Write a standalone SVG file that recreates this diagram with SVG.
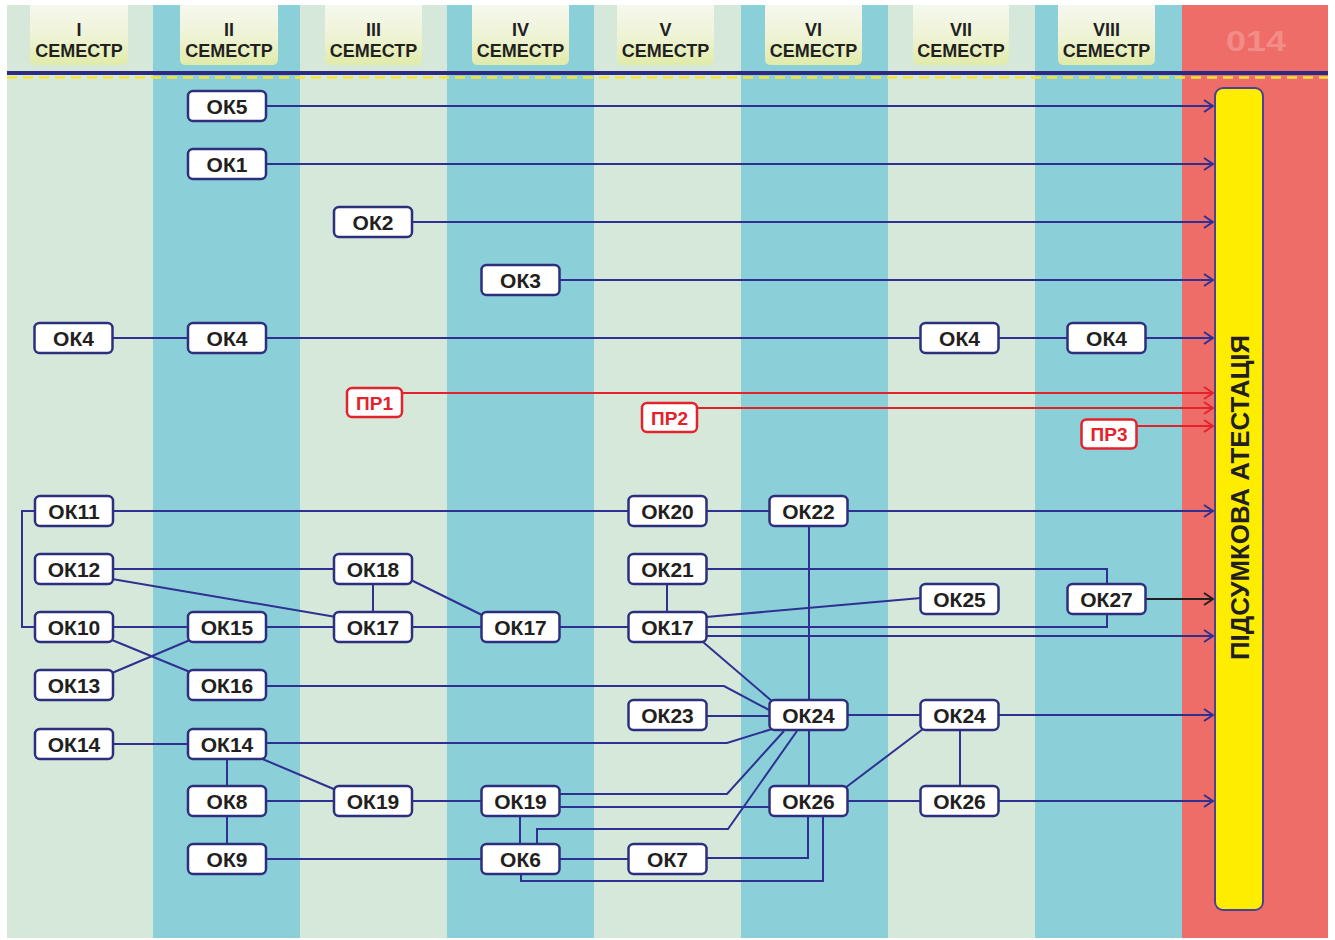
<svg xmlns="http://www.w3.org/2000/svg" width="1335" height="940" viewBox="0 0 1335 940">
<defs>
<style>
.colA{fill:#d5e8d9}
.colB{fill:#8bcfd9}
.tab{fill:url(#tabg)}
.htxt{font-family:"Liberation Sans",Arial,sans-serif;font-weight:bold;font-size:18px;fill:#231f20;text-anchor:middle}
.box{fill:#ffffff;stroke:#2d2f7e;stroke-width:2.5}
.lbl{font-family:"Liberation Sans",Arial,sans-serif;font-weight:bold;font-size:21px;fill:#231f20;text-anchor:middle}
.pbox{fill:#ffffff;stroke:#e3222b;stroke-width:2.5}
.plbl{font-family:"Liberation Sans",Arial,sans-serif;font-weight:bold;font-size:19px;fill:#e3222b;text-anchor:middle}
.ln{fill:none;stroke:#2e3192;stroke-width:2}
.lnr{fill:none;stroke:#e3222b;stroke-width:2}
.lnk{fill:none;stroke:#231f20;stroke-width:2}
.arr{marker-end:url(#ah)}
.arrr{marker-end:url(#ahr)}
.arrk{marker-end:url(#ahk)}
</style>
<linearGradient id="tabg" x1="0" y1="0" x2="0" y2="1">
<stop offset="0" stop-color="#f5f8ee"/>
<stop offset="0.55" stop-color="#eef3d4"/>
<stop offset="1" stop-color="#e0eba9"/>
</linearGradient>
<marker id="ah" viewBox="0 0 12 14" refX="11" refY="7" markerWidth="12" markerHeight="14" markerUnits="userSpaceOnUse" orient="auto">
<path d="M2,1 L11,7 L2,13" fill="none" stroke="#2e3192" stroke-width="2"/>
</marker>
<marker id="ahr" viewBox="0 0 12 14" refX="11" refY="7" markerWidth="12" markerHeight="14" markerUnits="userSpaceOnUse" orient="auto">
<path d="M2,1 L11,7 L2,13" fill="none" stroke="#e3222b" stroke-width="2"/>
</marker>
<marker id="ahk" viewBox="0 0 12 14" refX="11" refY="7" markerWidth="12" markerHeight="14" markerUnits="userSpaceOnUse" orient="auto">
<path d="M2,1 L11,7 L2,13" fill="none" stroke="#231f20" stroke-width="2"/>
</marker>
</defs>
<rect x="0" y="0" width="1335" height="940" fill="#ffffff"/>
<g id="columns">
<rect class="colA" x="7" y="5" width="146" height="933"/>
<rect class="colB" x="153" y="5" width="147" height="933"/>
<rect class="colA" x="300" y="5" width="147" height="933"/>
<rect class="colB" x="447" y="5" width="147" height="933"/>
<rect class="colA" x="594" y="5" width="147" height="933"/>
<rect class="colB" x="741" y="5" width="147" height="933"/>
<rect class="colA" x="888" y="5" width="147" height="933"/>
<rect class="colB" x="1035" y="5" width="147" height="933"/>
<rect x="1182" y="5" width="146" height="933" fill="#ee6d69"/>
</g>
<g id="header">
<path class="tab" d="M30,5 H128 V59 Q128,65 122,65 H36 Q30,65 30,59 Z"/>
<path class="tab" d="M180,5 H278 V59 Q278,65 272,65 H186 Q180,65 180,59 Z"/>
<path class="tab" d="M325,5 H422 V59 Q422,65 416,65 H331 Q325,65 325,59 Z"/>
<path class="tab" d="M472,5 H569 V59 Q569,65 563,65 H478 Q472,65 472,59 Z"/>
<path class="tab" d="M617,5 H714 V59 Q714,65 708,65 H623 Q617,65 617,59 Z"/>
<path class="tab" d="M765,5 H862 V59 Q862,65 856,65 H771 Q765,65 765,59 Z"/>
<path class="tab" d="M913,5 H1009 V59 Q1009,65 1003,65 H919 Q913,65 913,59 Z"/>
<path class="tab" d="M1058,5 H1155 V59 Q1155,65 1149,65 H1064 Q1058,65 1058,59 Z"/>
<text class="htxt" x="79" y="36">I</text><text class="htxt" x="79" y="57">СЕМЕСТР</text>
<text class="htxt" x="229" y="36">II</text><text class="htxt" x="229" y="57">СЕМЕСТР</text>
<text class="htxt" x="373.5" y="36">III</text><text class="htxt" x="373.5" y="57">СЕМЕСТР</text>
<text class="htxt" x="520.5" y="36">IV</text><text class="htxt" x="520.5" y="57">СЕМЕСТР</text>
<text class="htxt" x="665.5" y="36">V</text><text class="htxt" x="665.5" y="57">СЕМЕСТР</text>
<text class="htxt" x="813.5" y="36">VI</text><text class="htxt" x="813.5" y="57">СЕМЕСТР</text>
<text class="htxt" x="961" y="36">VII</text><text class="htxt" x="961" y="57">СЕМЕСТР</text>
<text class="htxt" x="1106.5" y="36">VIII</text><text class="htxt" x="1106.5" y="57">СЕМЕСТР</text>
<text x="1256" y="51" font-family="'Liberation Sans',Arial,sans-serif" font-weight="bold" font-size="29" fill="#f38b87" text-anchor="middle" textLength="60" lengthAdjust="spacingAndGlyphs">014</text>
<line x1="7" y1="73" x2="1328" y2="73" stroke="#2e2a7e" stroke-width="4"/>
<line x1="7" y1="77.5" x2="1328" y2="77.5" stroke="#f5e23a" stroke-width="2.5" stroke-dasharray="10 6"/>
</g>
<g id="final-attestation">
<rect x="1215" y="88" width="48" height="822" rx="8" fill="#ffed00" stroke="#4b4390" stroke-width="2"/>
<text transform="translate(1249,497.5) rotate(-90)" x="0" y="0" font-family="'Liberation Sans',Arial,sans-serif" font-weight="bold" font-size="26" fill="#231f20" text-anchor="middle" textLength="325" lengthAdjust="spacingAndGlyphs">ПІДСУМКОВА АТЕСТАЦІЯ</text>
</g>
<g id="connectors">
<path class="ln arr" d="M266,106 H1213"/>
<path class="ln arr" d="M266,164 H1213"/>
<path class="ln arr" d="M412,222 H1213"/>
<path class="ln arr" d="M559,280 H1213"/>
<path class="ln" d="M112,338 H188 M266,338 H921"/>
<path class="ln" d="M998,338 H1068"/>
<path class="ln arr" d="M1145,338 H1213"/>
<path class="lnr arrr" d="M402,393 H1213"/>
<path class="lnr arrr" d="M697,408 H1213"/>
<path class="lnr arrr" d="M1136,426 H1213"/>
<path class="ln" d="M113,511 H629 M706,511 H770"/>
<path class="ln arr" d="M847,511 H1213"/>
<path class="ln" d="M35,511 H22 V627 H35"/>
<path class="ln" d="M112,569 H334"/>
<path class="ln" d="M112,579 L336,617"/>
<path class="ln" d="M373,585 V612"/>
<path class="ln" d="M411,580 L484,616"/>
<path class="ln" d="M112,627 H188 M266,627 H334 M412,627 H482 M559,627 H629"/>
<path class="ln" d="M112,640 L190,672"/>
<path class="ln" d="M112,673 L190,640"/>
<path class="ln" d="M706,569 H1107 V584"/>
<path class="ln" d="M667,585 V612"/>
<path class="ln" d="M706,617 L921,598"/>
<path class="ln" d="M706,627 H1107 V614"/>
<path class="ln arr" d="M706,636 H1213"/>
<path class="lnk arrk" d="M1145,599 H1213"/>
<path class="ln" d="M703,642 L773,702"/>
<path class="ln" d="M809,527 V700"/>
<path class="ln" d="M266,686 H724 L771,711"/>
<path class="ln" d="M706,716 H770"/>
<path class="ln" d="M112,744 H188"/>
<path class="ln" d="M266,743 H727 L772,729"/>
<path class="ln" d="M847,715 H921"/>
<path class="ln arr" d="M998,715 H1213"/>
<path class="ln" d="M809,730 V786"/>
<path class="ln" d="M960,730 V786"/>
<path class="ln" d="M923,729 L845,788"/>
<path class="ln" d="M847,801 H921"/>
<path class="ln arr" d="M998,801 H1213"/>
<path class="ln" d="M227,759 V786 M227,816 V844"/>
<path class="ln" d="M260,758 L336,790"/>
<path class="ln" d="M266,801 H334 M412,801 H482"/>
<path class="ln" d="M559,794 H727 L784,731"/>
<path class="ln" d="M559,807 H770"/>
<path class="ln" d="M520,816 V844"/>
<path class="ln" d="M537,844 V829 H728 L797,731"/>
<path class="ln" d="M266,859 H482 M559,859 H629"/>
<path class="ln" d="M706,858 H808 V816"/>
<path class="ln" d="M521,874 V881 H823 V816"/>
</g>
<g id="ok5" transform="translate(227,106)"><rect class="box" x="-39" y="-15" width="78" height="30" rx="5"/><text class="lbl" y="8">ОК5</text></g>
<g id="ok1" transform="translate(227,164)"><rect class="box" x="-39" y="-15" width="78" height="30" rx="5"/><text class="lbl" y="8">ОК1</text></g>
<g id="ok2" transform="translate(373,222)"><rect class="box" x="-39" y="-15" width="78" height="30" rx="5"/><text class="lbl" y="8">ОК2</text></g>
<g id="ok3" transform="translate(520.5,280)"><rect class="box" x="-39" y="-15" width="78" height="30" rx="5"/><text class="lbl" y="8">ОК3</text></g>
<g id="ok4-s1" transform="translate(73.5,338)"><rect class="box" x="-39" y="-15" width="78" height="30" rx="5"/><text class="lbl" y="8">ОК4</text></g>
<g id="ok4-s2" transform="translate(227,338)"><rect class="box" x="-39" y="-15" width="78" height="30" rx="5"/><text class="lbl" y="8">ОК4</text></g>
<g id="ok4-s7" transform="translate(959.5,338)"><rect class="box" x="-39" y="-15" width="78" height="30" rx="5"/><text class="lbl" y="8">ОК4</text></g>
<g id="ok4-s8" transform="translate(1106.5,338)"><rect class="box" x="-39" y="-15" width="78" height="30" rx="5"/><text class="lbl" y="8">ОК4</text></g>
<g id="pr1" transform="translate(374.5,402.5)"><rect class="pbox" x="-27.5" y="-14.5" width="55" height="29" rx="5"/><text class="plbl" y="7">ПР1</text></g>
<g id="pr2" transform="translate(669.5,417.5)"><rect class="pbox" x="-27.5" y="-14.5" width="55" height="29" rx="5"/><text class="plbl" y="7">ПР2</text></g>
<g id="pr3" transform="translate(1109,434)"><rect class="pbox" x="-27.5" y="-14.5" width="55" height="29" rx="5"/><text class="plbl" y="7">ПР3</text></g>
<g id="ok11" transform="translate(74,511)"><rect class="box" x="-39" y="-15" width="78" height="30" rx="5"/><text class="lbl" y="8">ОК11</text></g>
<g id="ok20" transform="translate(667.5,511)"><rect class="box" x="-39" y="-15" width="78" height="30" rx="5"/><text class="lbl" y="8">ОК20</text></g>
<g id="ok22" transform="translate(808.5,511)"><rect class="box" x="-39" y="-15" width="78" height="30" rx="5"/><text class="lbl" y="8">ОК22</text></g>
<g id="ok12" transform="translate(74,569)"><rect class="box" x="-39" y="-15" width="78" height="30" rx="5"/><text class="lbl" y="8">ОК12</text></g>
<g id="ok18" transform="translate(373,569)"><rect class="box" x="-39" y="-15" width="78" height="30" rx="5"/><text class="lbl" y="8">ОК18</text></g>
<g id="ok21" transform="translate(667.5,569)"><rect class="box" x="-39" y="-15" width="78" height="30" rx="5"/><text class="lbl" y="8">ОК21</text></g>
<g id="ok25" transform="translate(959.5,599)"><rect class="box" x="-39" y="-15" width="78" height="30" rx="5"/><text class="lbl" y="8">ОК25</text></g>
<g id="ok27" transform="translate(1106.5,599)"><rect class="box" x="-39" y="-15" width="78" height="30" rx="5"/><text class="lbl" y="8">ОК27</text></g>
<g id="ok10" transform="translate(74,627)"><rect class="box" x="-39" y="-15" width="78" height="30" rx="5"/><text class="lbl" y="8">ОК10</text></g>
<g id="ok15" transform="translate(227,627)"><rect class="box" x="-39" y="-15" width="78" height="30" rx="5"/><text class="lbl" y="8">ОК15</text></g>
<g id="ok17-s3" transform="translate(373,627)"><rect class="box" x="-39" y="-15" width="78" height="30" rx="5"/><text class="lbl" y="8">ОК17</text></g>
<g id="ok17-s4" transform="translate(520.5,627)"><rect class="box" x="-39" y="-15" width="78" height="30" rx="5"/><text class="lbl" y="8">ОК17</text></g>
<g id="ok17-s5" transform="translate(667.5,627)"><rect class="box" x="-39" y="-15" width="78" height="30" rx="5"/><text class="lbl" y="8">ОК17</text></g>
<g id="ok13" transform="translate(74,685)"><rect class="box" x="-39" y="-15" width="78" height="30" rx="5"/><text class="lbl" y="8">ОК13</text></g>
<g id="ok16" transform="translate(227,685)"><rect class="box" x="-39" y="-15" width="78" height="30" rx="5"/><text class="lbl" y="8">ОК16</text></g>
<g id="ok23" transform="translate(667.5,715)"><rect class="box" x="-39" y="-15" width="78" height="30" rx="5"/><text class="lbl" y="8">ОК23</text></g>
<g id="ok24-s6" transform="translate(808.5,715)"><rect class="box" x="-39" y="-15" width="78" height="30" rx="5"/><text class="lbl" y="8">ОК24</text></g>
<g id="ok24-s7" transform="translate(959.5,715)"><rect class="box" x="-39" y="-15" width="78" height="30" rx="5"/><text class="lbl" y="8">ОК24</text></g>
<g id="ok14-s1" transform="translate(74,744)"><rect class="box" x="-39" y="-15" width="78" height="30" rx="5"/><text class="lbl" y="8">ОК14</text></g>
<g id="ok14-s2" transform="translate(227,744)"><rect class="box" x="-39" y="-15" width="78" height="30" rx="5"/><text class="lbl" y="8">ОК14</text></g>
<g id="ok8" transform="translate(227,801)"><rect class="box" x="-39" y="-15" width="78" height="30" rx="5"/><text class="lbl" y="8">ОК8</text></g>
<g id="ok19-s3" transform="translate(373,801)"><rect class="box" x="-39" y="-15" width="78" height="30" rx="5"/><text class="lbl" y="8">ОК19</text></g>
<g id="ok19-s4" transform="translate(520.5,801)"><rect class="box" x="-39" y="-15" width="78" height="30" rx="5"/><text class="lbl" y="8">ОК19</text></g>
<g id="ok26-s6" transform="translate(808.5,801)"><rect class="box" x="-39" y="-15" width="78" height="30" rx="5"/><text class="lbl" y="8">ОК26</text></g>
<g id="ok26-s7" transform="translate(959.5,801)"><rect class="box" x="-39" y="-15" width="78" height="30" rx="5"/><text class="lbl" y="8">ОК26</text></g>
<g id="ok9" transform="translate(227,859)"><rect class="box" x="-39" y="-15" width="78" height="30" rx="5"/><text class="lbl" y="8">ОК9</text></g>
<g id="ok6" transform="translate(520.5,859)"><rect class="box" x="-39" y="-15" width="78" height="30" rx="5"/><text class="lbl" y="8">ОК6</text></g>
<g id="ok7" transform="translate(667.5,859)"><rect class="box" x="-39" y="-15" width="78" height="30" rx="5"/><text class="lbl" y="8">ОК7</text></g>
</svg>
